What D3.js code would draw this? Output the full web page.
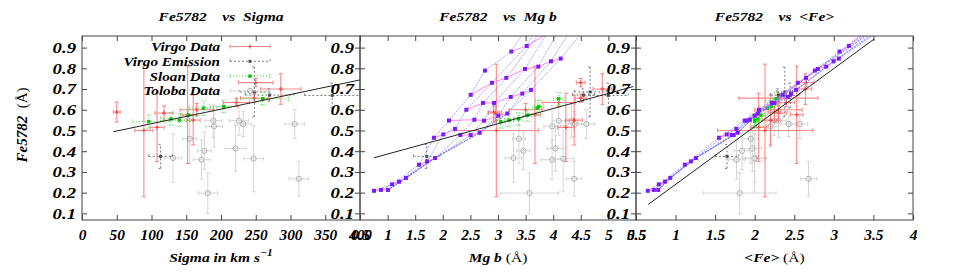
<!DOCTYPE html>
<html>
<head>
<meta charset="utf-8">
<script src="https://cdn.jsdelivr.net/npm/d3@7"></script>
<style>
body { margin: 0; background: #fff; }
svg text { font-family: "Liberation Serif", "Times New Roman", serif; font-weight: bold; font-style: italic; fill: #000; }
svg text .rom { font-weight: normal; font-style: normal; }
</style>
</head>
<body>
<svg id="chart" width="969" height="277"></svg>
<script>
// ---- Virgo Data (red) ----
var virgoSigma      = [50, 89, 108, 118, 152, 160, 165, 222, 250, 248, 286];
var virgoSigmaErr   = [5, 13, 10, 13, 8, 10, 24, 19, 25, 20, 29];
var virgoMgb        = [2.92, 2.97, 4.23, 2.95, 3.67, 4.38, 3.50, 4.10, 4.50, 4.50, 4.89];
var virgoMgbErr     = [0.10, 0.76, 0.15, 0.12, 0.10, 0.15, 0.30, 0.30, 0.08, 0.10, 0.17];
var virgoFe         = [2.25, 2.13, 2.05, 2.30, 2.53, 2.20, 2.30, 2.40, 2.65, 2.30, 2.64];
var virgoFeErr      = [0.08, 0.60, 0.10, 0.10, 0.08, 0.10, 0.30, 0.10, 0.10, 0.50, 0.08];
var virgoFe5782     = [0.589, 0.500, 0.515, 0.584, 0.576, 0.550, 0.600, 0.635, 0.731, 0.656, 0.700];
var virgoFe5782Err  = [0.048, 0.320, 0.165, 0.035, 0.235, 0.120, 0.030, 0.020, 0.020, 0.020, 0.074];

// ---- Virgo Emission (dark grey, dashed) ----
var emisSigma     = [113, 248, 270, 360];
var emisSigmaErr  = [17, 21, 35, 40];
var emisMgb       = [1.71, 4.67, 4.55, 5.00];
var emisMgbErr    = [0.24, 0.29, 0.20, 0.36];
var emisFe        = [1.65, 2.38, 2.30, 2.45];
var emisFeErr     = [0.15, 0.10, 0.10, 0.12];
var emisFe5782    = [0.375, 0.686, 0.671, 0.669];
var emisFe5782Err = [0.058, 0.120, 0.030, 0.060];

// ---- Sloan Data (green, dotted) ----
var sloanSigma     = [96, 128, 140, 153, 175, 204, 260];
var sloanSigmaErr  = [23, 15, 15, 12, 21, 20, 37];
var sloanMgb       = [3.05, 3.37, 3.20, 3.53, 3.71, 3.74, 4.10];
var sloanMgbErr    = [0.08, 0.08, 0.08, 0.08, 0.08, 0.08, 0.10];
var sloanFe        = [2.00, 2.04, 2.00, 2.08, 2.16, 2.21, 2.27];
var sloanFeErr     = [0.05, 0.05, 0.05, 0.05, 0.05, 0.05, 0.05];
var sloanFe5782    = [0.543, 0.556, 0.550, 0.574, 0.608, 0.616, 0.653];
var sloanFe5782Err = [0.032, 0.030, 0.030, 0.030, 0.035, 0.030, 0.030];

// ---- Toloba Data (light grey, open circles) ----
var tolobaSigma     = [181, 312, 172, 131, 247, 176, 221, 155, 190, 189, 226, 232, 306];
var tolobaSigmaErr  = [14, 14, 12, 12, 14, 10, 15, 10, 12, 12, 14, 12, 14];
var tolobaMgb       = [3.57, 4.38, 3.98, 3.28, 4.18, 3.46, 4.04, 3.38, 3.98, 4.33, 4.10, 4.39, 4.60];
var tolobaMgbErr    = [0.53, 0.14, 0.20, 0.15, 0.20, 0.12, 0.15, 0.12, 0.15, 0.12, 0.12, 0.12, 0.15];
var tolobaFe        = [1.81, 2.68, 1.77, 2.00, 2.00, 1.84, 1.97, 1.95, 2.20, 2.30, 2.25, 2.43, 2.57];
var tolobaFeErr     = [0.46, 0.10, 0.10, 0.15, 0.12, 0.10, 0.12, 0.10, 0.10, 0.10, 0.10, 0.10, 0.10];
var tolobaFe5782    = [0.198, 0.267, 0.359, 0.367, 0.364, 0.402, 0.413, 0.460, 0.520, 0.547, 0.547, 0.531, 0.531];
var tolobaFe5782Err = [0.098, 0.084, 0.095, 0.117, 0.160, 0.090, 0.110, 0.120, 0.100, 0.080, 0.070, 0.060, 0.070];

// ---- SSP model grid (nodes; last ones lie above the frame) ----
var modelMgb = [0.754, 0.880, 1.007, 1.080, 1.207, 1.333, 1.569, 1.714, 1.859, 1.841, 2.009, 2.317, 2.505, 2.668,
  2.221, 2.112, 2.571, 2.746, 3.005, 3.168, 2.426, 2.728, 2.928, 3.230, 3.440, 3.598, 2.505, 2.891, 3.150, 3.489,
  3.730, 3.960, 4.136, 2.764, 3.241, 3.520, 3.489, 3.688, 3.797, 3.924, 4.105, 4.322, 4.558, 4.010];
var modelFe = [0.649, 0.725, 0.781, 0.789, 0.865, 0.933, 1.118, 1.194, 1.257, 1.548, 1.646, 1.709, 1.734, 1.785,
  1.768, 1.873, 1.937, 1.899, 2.000, 2.040, 2.054, 2.247, 2.215, 2.418, 2.459, 2.523, 2.354, 2.544, 2.649, 2.797,
  2.903, 2.996, 3.063, 2.760, 3.072, 3.190, 3.450, 3.480, 3.500, 3.520, 3.550, 3.580, 3.600, 3.400];
var modelFe5782 = [0.209, 0.213, 0.213, 0.240, 0.253, 0.271, 0.335, 0.351, 0.367, 0.465, 0.481, 0.478, 0.478, 0.489,
  0.508, 0.548, 0.552, 0.547, 0.571, 0.582, 0.600, 0.633, 0.633, 0.662, 0.678, 0.696, 0.672, 0.730, 0.754, 0.797,
  0.808, 0.834, 0.847, 0.789, 0.881, 0.908, 0.985, 0.985, 0.985, 0.985, 0.985, 0.985, 0.985, 0.985];
// blue dotted tracks and magenta lines, as node indices
var modelTracks = [
  [0, 3, 6, 9, 15, 26, 33, 34, 36],
  [1, 4, 7, 10, 14, 20, 27, 35, 37],
  [2, 5, 8, 11, 16, 21, 28, 38],
  [2, 5, 8, 12, 17, 22, 29, 39],
  [2, 5, 8, 13, 18, 23, 30, 40],
  [2, 5, 8, 13, 19, 24, 31, 41],
  [2, 5, 8, 13, 19, 25, 32, 42]
];
var modelRows = [
  [0, 1, 2], [3, 4, 5], [6, 7, 8], [9, 10, 14], [11, 12, 13],
  [15, 16, 17, 18, 19], [20, 21, 22, 23, 24, 25],
  [26, 27, 28, 29, 30, 31, 32], [34, 35, 43]
];

// ---- linear fits ----
var fitSigmaX = [45, 400],     fitSigmaY = [0.494, 0.744];
var fitMgbX   = [0.75, 5.45],  fitMgbY   = [0.368, 0.712];
var fitFeX    = [0.654, 3.515], fitFeY   = [0.143, 0.943];

var yTicks = [0.1, 0.2, 0.3, 0.4, 0.5, 0.6, 0.7, 0.8, 0.9];

var svg = d3.select("#chart");
var plotTop = 36, plotBottom = 220;
var stretch = 1.15;   // the original lettering is a little wider than it is tall
var y = d3.scaleLinear().domain([0.068, 0.956]).range([plotBottom, plotTop]);

function rows(xs, xe, ys, ye) {
  return xs.map(function(v, i) { return {x: v, xe: xe[i], y: ys[i], ye: ye[i]}; });
}

// text placed at (x, y) and widened by the stretch factor
function label(parent, x, y0, size, anchor) {
  return parent.append("text").attr("transform", "translate(" + x + "," + y0 + ") scale(" + stretch + ",1)")
    .attr("text-anchor", anchor).attr("font-size", size).style("white-space", "pre");
}

var panels = [
  {x: d3.scaleLinear().domain([0, 400]).range([82, 360]), ticks: d3.range(0, 401, 50),
   title: "Sigma", fitX: fitSigmaX, fitY: fitSigmaY, model: null,
   virgo: rows(virgoSigma, virgoSigmaErr, virgoFe5782, virgoFe5782Err),
   emis: rows(emisSigma, emisSigmaErr, emisFe5782, emisFe5782Err),
   sloan: rows(sloanSigma, sloanSigmaErr, sloanFe5782, sloanFe5782Err),
   toloba: rows(tolobaSigma, tolobaSigmaErr, tolobaFe5782, tolobaFe5782Err)},
  {x: d3.scaleLinear().domain([0.5, 5.5]).range([360, 636]), ticks: d3.range(0.5, 5.51, 0.5),
   title: "Mg b", fitX: fitMgbX, fitY: fitMgbY, model: modelMgb,
   virgo: rows(virgoMgb, virgoMgbErr, virgoFe5782, virgoFe5782Err),
   emis: rows(emisMgb, emisMgbErr, emisFe5782, emisFe5782Err),
   sloan: rows(sloanMgb, sloanMgbErr, sloanFe5782, sloanFe5782Err),
   toloba: rows(tolobaMgb, tolobaMgbErr, tolobaFe5782, tolobaFe5782Err)},
  {x: d3.scaleLinear().domain([0.5, 4]).range([636, 913]), ticks: d3.range(0.5, 4.01, 0.5),
   title: "<Fe>", fitX: fitFeX, fitY: fitFeY, model: modelFe,
   virgo: rows(virgoFe, virgoFeErr, virgoFe5782, virgoFe5782Err),
   emis: rows(emisFe, emisFeErr, emisFe5782, emisFe5782Err),
   sloan: rows(sloanFe, sloanFeErr, sloanFe5782, sloanFe5782Err),
   toloba: rows(tolobaFe, tolobaFeErr, tolobaFe5782, tolobaFe5782Err)}
];

var styles = {
  toloba: {color: "#d6d6d6", width: 1, dash: null, opacity: 1},
  virgo:  {color: "#ff5a5a", width: 1.1, dash: null, opacity: 0.7},
  emis:   {color: "#666", width: 1, dash: "2,2", opacity: 0.85},
  sloan:  {color: "#33dd33", width: 1, dash: "1,2", opacity: 1}
};

function errorBars(g, data, sx, st) {
  var grp = g.append("g").attr("stroke", st.color).attr("stroke-width", st.width)
    .attr("stroke-dasharray", st.dash).attr("opacity", st.opacity).attr("fill", "none");
  var e = grp.selectAll("g").data(data).enter().append("g");
  e.append("line").attr("x1", function(d) { return sx(d.x - d.xe); }).attr("x2", function(d) { return sx(d.x + d.xe); })
    .attr("y1", function(d) { return y(d.y); }).attr("y2", function(d) { return y(d.y); });
  e.append("line").attr("x1", function(d) { return sx(d.x); }).attr("x2", function(d) { return sx(d.x); })
    .attr("y1", function(d) { return y(d.y - d.ye); }).attr("y2", function(d) { return y(d.y + d.ye); });
  [-1, 1].forEach(function(s) {
    e.append("line").attr("stroke-dasharray", null)
      .attr("x1", function(d) { return sx(d.x + s * d.xe); }).attr("x2", function(d) { return sx(d.x + s * d.xe); })
      .attr("y1", function(d) { return y(d.y) - 2; }).attr("y2", function(d) { return y(d.y) + 2; });
    e.append("line").attr("stroke-dasharray", null)
      .attr("x1", function(d) { return sx(d.x) - 2; }).attr("x2", function(d) { return sx(d.x) + 2; })
      .attr("y1", function(d) { return y(d.y + s * d.ye); }).attr("y2", function(d) { return y(d.y + s * d.ye); });
  });
  return e;
}

function marker(sel, kind, px, py) {
  if (kind === "virgo") {
    sel.append("path").attr("d", function(d) { var X = px(d), Y = py(d); return "M" + (X - 2) + "," + Y + "H" + (X + 2) + "M" + X + "," + (Y - 2) + "V" + (Y + 2); })
      .attr("stroke", "#e00").attr("stroke-width", 1.2).attr("fill", "none");
  } else if (kind === "emis") {
    sel.append("rect").attr("x", function(d) { return px(d) - 1.5; }).attr("y", function(d) { return py(d) - 1.5; })
      .attr("width", 3).attr("height", 3).attr("fill", "#333").attr("stroke", "none");
  } else if (kind === "sloan") {
    sel.append("rect").attr("x", function(d) { return px(d) - 1.7; }).attr("y", function(d) { return py(d) - 1.7; })
      .attr("width", 3.4).attr("height", 3.4).attr("fill", "#00cc00").attr("stroke", "none");
  } else {
    sel.append("circle").attr("cx", px).attr("cy", py).attr("r", 2.6)
      .attr("fill", "none").attr("stroke", "#aaa").attr("stroke-width", 0.9).attr("stroke-dasharray", null);
  }
}

panels.forEach(function(p, k) {
  var x = p.x, x0 = x.range()[0], x1 = x.range()[1];
  var g = svg.append("g");
  var clipId = "clip" + k;
  svg.append("clipPath").attr("id", clipId).append("rect")
    .attr("x", x0).attr("y", plotTop).attr("width", x1 - x0).attr("height", plotBottom - plotTop);
  var plot = g.append("g").attr("clip-path", "url(#" + clipId + ")");

  ["toloba", "virgo", "emis", "sloan"].forEach(function(s) {
    var e = errorBars(plot, p[s], x, styles[s]);
    marker(e, s, function(d) { return x(d.x); }, function(d) { return y(d.y); });
  });

  if (p.model) {
    var mx = p.model;
    var line = d3.line().x(function(i) { return x(mx[i]); }).y(function(i) { return y(modelFe5782[i]); });
    plot.append("g").selectAll("path").data(modelTracks).enter().append("path")
      .attr("d", line).attr("fill", "none").attr("stroke", "#6a6aff").attr("stroke-width", 0.8)
      .attr("stroke-dasharray", "2,1").attr("opacity", 0.75);
    plot.append("g").selectAll("path").data(modelRows).enter().append("path")
      .attr("d", line).attr("fill", "none").attr("stroke", "#ff70ff").attr("stroke-width", 1).attr("opacity", 0.85);
    plot.append("g").selectAll("rect").data(d3.range(modelFe5782.length)).enter().append("rect")
      .attr("x", function(i) { return x(mx[i]) - 2; }).attr("y", function(i) { return y(modelFe5782[i]) - 2; })
      .attr("width", 4).attr("height", 4).attr("fill", "#7a1cff");
  }

  plot.append("line")
    .attr("x1", x(p.fitX[0])).attr("y1", y(p.fitY[0])).attr("x2", x(p.fitX[1])).attr("y2", y(p.fitY[1]))
    .attr("stroke", "#222").attr("stroke-width", 1);

  // frame and inward ticks
  g.append("rect").attr("x", x0).attr("y", plotTop).attr("width", x1 - x0).attr("height", plotBottom - plotTop)
    .attr("fill", "none").attr("stroke", "#444").attr("stroke-width", 1);

  var xf = function(v) { return k === 0 ? d3.format("d")(v) : d3.format("~g")(v); };
  g.append("g").attr("transform", "translate(0," + plotBottom + ")")
    .call(d3.axisBottom(x).tickValues(p.ticks).tickSize(-5).tickPadding(10).tickFormat(xf))
    .call(function(a) {
      a.select(".domain").remove(); a.selectAll("line").attr("stroke", "#444");
      a.selectAll("text").attr("font-size", 14).attr("font-family", null).attr("transform", "scale(1.1,1)");
    });
  g.append("g").attr("transform", "translate(0," + plotTop + ")")
    .call(d3.axisTop(x).tickValues(p.ticks).tickSize(-5).tickFormat(""))
    .call(function(a) { a.select(".domain").remove(); a.selectAll("line").attr("stroke", "#444"); });
  g.append("g").attr("transform", "translate(" + x0 + ",0)")
    .call(d3.axisLeft(y).tickValues(yTicks).tickSize(-5).tickPadding(9).tickFormat(d3.format(".1f")))
    .call(function(a) {
      a.select(".domain").remove(); a.selectAll("line").attr("stroke", "#444");
      a.selectAll("text").attr("font-size", 15).attr("font-family", null)
        .attr("x", -6 / 1.25).attr("transform", "scale(1.25,1)");
    });
  g.append("g").attr("transform", "translate(" + x1 + ",0)")
    .call(d3.axisRight(y).tickValues(yTicks).tickSize(-5).tickFormat(""))
    .call(function(a) { a.select(".domain").remove(); a.selectAll("line").attr("stroke", "#444"); });

  // title
  label(svg, (x0 + x1) / 2, 21, 13.5, "middle").text("Fe5782    vs  " + p.title);

  // x axis label
  var xl = label(svg, (x0 + x1) / 2, 262, 13.5, "middle");
  if (k === 0) {
    xl.append("tspan").text("Sigma in km s");
    xl.append("tspan").attr("dy", -6).attr("font-size", 10).text("\u22121");
  } else {
    xl.append("tspan").text(p.title);
    xl.append("tspan").attr("class", "rom").text(" (\u00c5)");
  }
});

// y axis label
var yl = svg.append("text").attr("transform", "translate(27,125) rotate(-90)").attr("text-anchor", "middle")
  .attr("font-size", 15).style("white-space", "pre");
yl.append("tspan").text("Fe5782  ");
yl.append("tspan").attr("class", "rom").text("(\u00c5)");

// key, inside the first panel
var keyItems = [
  {label: "Virgo Data", kind: "virgo"},
  {label: "Virgo Emission", kind: "emis"},
  {label: "Sloan Data", kind: "sloan"},
  {label: "Toloba Data", kind: "toloba"}
];
var key = svg.append("g");
keyItems.forEach(function(it, i) {
  var ky = 46.5 + i * 14.8;
  label(key, 220, ky + 4.5, 13.2, "end").text(it.label);
  var st = styles[it.kind];
  var e = errorBars(key, [{x: 250, xe: 20, y: y.invert(ky), ye: 0}], function(v) { return v; }, st);
  e.selectAll("line").filter(function(d, j) { return j === 1 || j === 3 || j === 5; }).remove();
  marker(e, it.kind, function() { return 250; }, function() { return ky; });
});
</script>
</body>
</html>
